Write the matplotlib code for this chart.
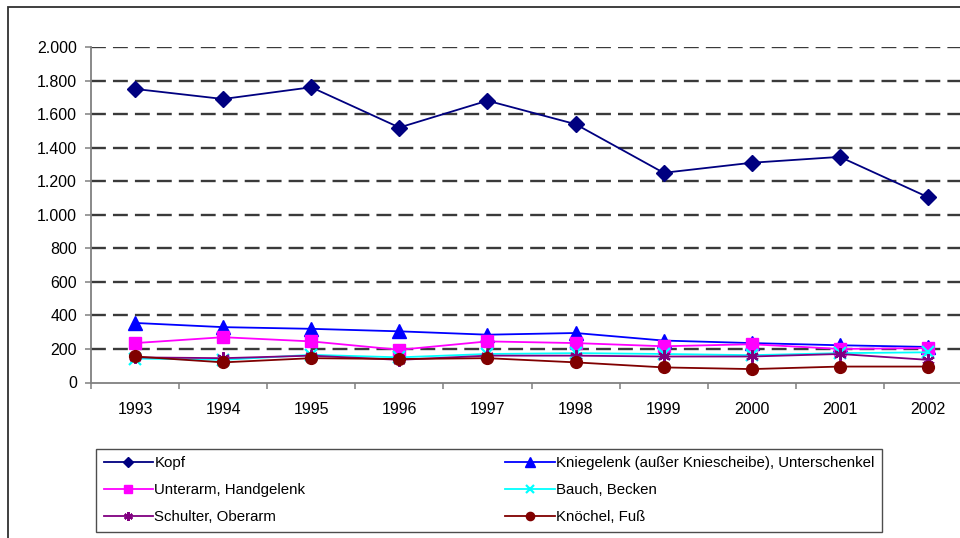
import matplotlib
matplotlib.use("Agg")
import matplotlib.pyplot as plt
from matplotlib.patches import Rectangle

plt.rcParams['font.family'] = ['Liberation Sans', 'DejaVu Sans']

years = ["1993", "1994", "1995", "1996", "1997", "1998", "1999", "2000", "2001", "2002"]
kopf = [1750, 1690, 1760, 1520, 1680, 1540, 1250, 1310, 1345, 1105]
knie = [355, 330, 320, 305, 285, 295, 250, 235, 222, 212]
unterarm = [235, 270, 245, 195, 245, 235, 216, 228, 200, 205]
bauch = [143, 135, 165, 150, 170, 175, 170, 163, 175, 180]
schulter = [150, 145, 160, 135, 160, 160, 155, 155, 170, 135]
knoechel = [155, 120, 145, 140, 145, 120, 90, 80, 95, 95]
labels = ["Kopf", "Kniegelenk (außer Kniescheibe), Unterschenkel",
          "Unterarm, Handgelenk", "Bauch, Becken",
          "Schulter, Oberarm", "Knöchel, Fuß"]
yticks = [0, 200, 400, 600, 800, 1000, 1200, 1400, 1600, 1800, 2000]

fig = plt.figure(figsize=(9.6, 5.38), dpi=100)
W, H = 960, 538
ax = fig.add_axes([91 / W, 1 - 382.5 / H, (972 - 91) / W, (382.5 - 47) / H])

# outer chart frame
fig.patches.append(Rectangle((8 / W, -0.1), 2.0, 1.1 - 7 / H, transform=fig.transFigure,
                             fill=False, edgecolor='#303030', linewidth=1.3, zorder=0))

x = list(range(len(years)))
styles = [
    (kopf, dict(color='#000080', marker='D', markersize=8)),
    (knie, dict(color='#0000FF', marker='^', markersize=9.5)),
    (unterarm, dict(color='#FF00FF', marker='s', markersize=8)),
    (bauch, dict(color='#00FFFF', marker='x', markersize=8, markeredgewidth=1.6)),
    (schulter, dict(color='#800080', marker=(6, 2, 0), markersize=9, markeredgewidth=1.6)),
    (knoechel, dict(color='#800000', marker='o', markersize=8.5)),
]
handles = []
for (vals, st), lab in zip(styles, labels):
    h, = ax.plot(x, vals, linewidth=1.3, label=lab, zorder=3, clip_on=False, **st)
    handles.append(h)

ax.set_xlim(-0.5, len(years) - 0.5)
ax.set_ylim(0, 2000)

for v in yticks[1:]:
    ax.axhline(v, color='#3a3a3a', linewidth=1.7, linestyle=(0, (6.3, 3.0)), zorder=1)

for s in ['top', 'right']:
    ax.spines[s].set_visible(False)
for s in ['left', 'bottom']:
    ax.spines[s].set_color('#808080')
    ax.spines[s].set_linewidth(1.3)

ax.set_yticks(yticks)
ax.set_yticklabels([f"{v:,}".replace(",", ".") for v in yticks], fontsize=11.5)
ax.tick_params(axis='y', length=4, width=1.1, color='#808080', pad=6)

ax.set_xticks([i - 0.5 for i in range(len(years) + 1)])
ax.set_xticklabels([])
ax.tick_params(axis='x', which='major', length=4, width=1.1, color='#808080')
ax.set_xticks(x, minor=True)
ax.set_xticklabels(years, minor=True, fontsize=11.5)
ax.tick_params(axis='x', which='minor', length=0, pad=14)

order = [0, 2, 4, 1, 3, 5]
leg = fig.legend([handles[i] for i in order], [labels[i] for i in order],
                 loc='upper left', ncol=2, mode='expand',
                 bbox_to_anchor=(96 / W, 1 - 533 / H, (882 - 96) / W, (533 - 449) / H),
                 bbox_transform=fig.transFigure,
                 fancybox=False, frameon=True, edgecolor='#202020', fontsize=10.8,
                 handlelength=3.3, handletextpad=0.1, borderpad=0.5,
                 labelspacing=0.85, borderaxespad=0, markerscale=0.7)
leg.get_frame().set_linewidth(1.0)

fig.savefig("out.png", dpi=100)
